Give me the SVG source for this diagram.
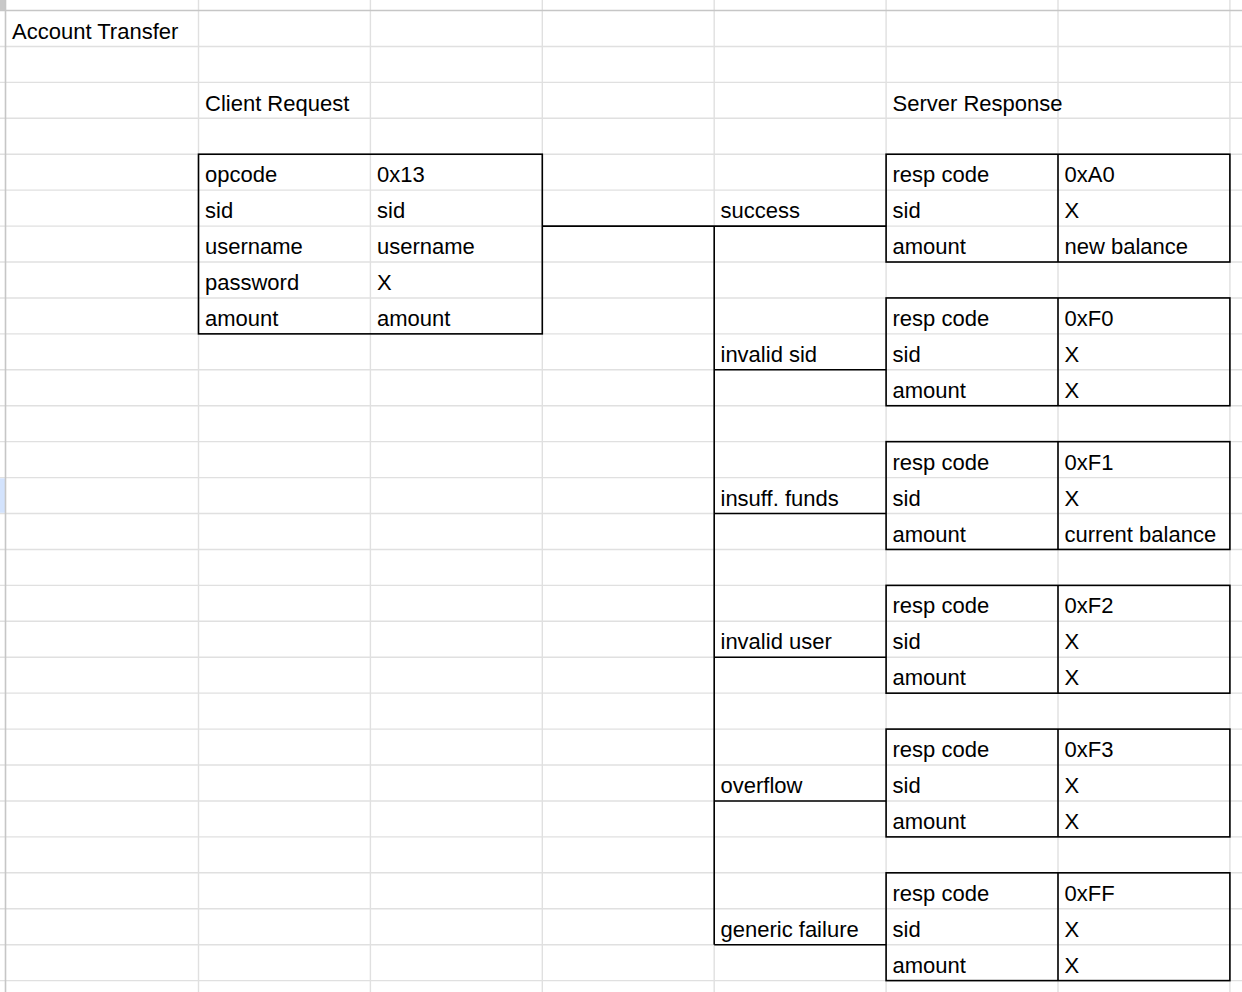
<svg xmlns="http://www.w3.org/2000/svg" width="1242" height="992" viewBox="0 0 1242 992">
  <style>
    .grid line { stroke: #e0e0e0; stroke-width: 1.4; }
    .hdr { stroke: #c6c6c6; stroke-width: 1.6; }
    .t { font-family: "Liberation Sans", Arial, sans-serif; font-size: 22px; fill: #000; }
    .box { fill: none; stroke: #000; stroke-width: 1.6; }
    .sep { stroke: #000; stroke-width: 1.6; }
    .conn path { fill: none; stroke: #000; stroke-width: 1.6; }
  </style>
  <rect width="1242" height="992" fill="#fff"/>

  <!-- spreadsheet gridlines: columns every 171.9px, rows every 35.93px -->
  <g class="grid">
    <line x1="198.5" y1="0" x2="198.5" y2="992"/>
    <line x1="370.4" y1="0" x2="370.4" y2="992"/>
    <line x1="542.3" y1="0" x2="542.3" y2="992"/>
    <line x1="714.2" y1="0" x2="714.2" y2="992"/>
    <line x1="886.1" y1="0" x2="886.1" y2="992"/>
    <line x1="1058" y1="0" x2="1058" y2="992"/>
    <line x1="1229.9" y1="0" x2="1229.9" y2="992"/>
    <line x1="0" y1="46.43" x2="1242" y2="46.43"/>
    <line x1="0" y1="82.36" x2="1242" y2="82.36"/>
    <line x1="0" y1="118.29" x2="1242" y2="118.29"/>
    <line x1="0" y1="154.22" x2="1242" y2="154.22"/>
    <line x1="0" y1="190.15" x2="1242" y2="190.15"/>
    <line x1="0" y1="226.08" x2="1242" y2="226.08"/>
    <line x1="0" y1="262.01" x2="1242" y2="262.01"/>
    <line x1="0" y1="297.94" x2="1242" y2="297.94"/>
    <line x1="0" y1="333.87" x2="1242" y2="333.87"/>
    <line x1="0" y1="369.8" x2="1242" y2="369.8"/>
    <line x1="0" y1="405.73" x2="1242" y2="405.73"/>
    <line x1="0" y1="441.66" x2="1242" y2="441.66"/>
    <line x1="0" y1="477.59" x2="1242" y2="477.59"/>
    <line x1="0" y1="513.52" x2="1242" y2="513.52"/>
    <line x1="0" y1="549.45" x2="1242" y2="549.45"/>
    <line x1="0" y1="585.38" x2="1242" y2="585.38"/>
    <line x1="0" y1="621.31" x2="1242" y2="621.31"/>
    <line x1="0" y1="657.24" x2="1242" y2="657.24"/>
    <line x1="0" y1="693.17" x2="1242" y2="693.17"/>
    <line x1="0" y1="729.1" x2="1242" y2="729.1"/>
    <line x1="0" y1="765.03" x2="1242" y2="765.03"/>
    <line x1="0" y1="800.96" x2="1242" y2="800.96"/>
    <line x1="0" y1="836.89" x2="1242" y2="836.89"/>
    <line x1="0" y1="872.82" x2="1242" y2="872.82"/>
    <line x1="0" y1="908.75" x2="1242" y2="908.75"/>
    <line x1="0" y1="944.68" x2="1242" y2="944.68"/>
    <line x1="0" y1="980.61" x2="1242" y2="980.61"/>
  </g>

  <!-- frozen header edges -->
  <g id="headers">
    <rect x="0" y="0" width="5.5" height="10.5" fill="#c8c8c8"/>
    <rect x="0" y="478.3" width="5" height="34.5" fill="#d3e3fd"/>
    <line class="hdr" x1="0" y1="10.5" x2="1242" y2="10.5"/>
    <line class="hdr" x1="5.5" y1="0" x2="5.5" y2="992"/>
  </g>

  <g id="title">
    <text class="t" x="12" y="39">Account Transfer</text>
  </g>
  <g id="section-labels">
    <text class="t" x="205" y="110.8">Client Request</text>
    <text class="t" x="892.5" y="110.8">Server Response</text>
  </g>

  <!-- request table -->
  <g id="client-request">
    <rect class="box" x="198.5" y="154.22" width="343.8" height="179.65"/>
    <text class="t" x="205" y="182.2">opcode</text>
    <text class="t" x="377" y="182.2">0x13</text>
    <text class="t" x="205" y="218.1">sid</text>
    <text class="t" x="377" y="218.1">sid</text>
    <text class="t" x="205" y="254.1">username</text>
    <text class="t" x="377" y="254.1">username</text>
    <text class="t" x="205" y="290">password</text>
    <text class="t" x="377" y="290">X</text>
    <text class="t" x="205" y="325.9">amount</text>
    <text class="t" x="377" y="325.9">amount</text>
  </g>

  <!-- branch tree from request to each response -->
  <g id="connectors" class="conn">
    <path d="M542.3 226.08 H886.1"/>
    <path d="M714.2 226.08 V944.68"/>
    <path d="M714.2 369.8 H886.1"/>
    <path d="M714.2 513.52 H886.1"/>
    <path d="M714.2 657.24 H886.1"/>
    <path d="M714.2 800.96 H886.1"/>
    <path d="M714.2 944.68 H886.1"/>
  </g>

  <!-- branch labels -->
  <g id="labels">
    <text class="t" x="720.5" y="218.1">success</text>
    <text class="t" x="720.5" y="361.8">invalid sid</text>
    <text class="t" x="720.5" y="505.5">insuff. funds</text>
    <text class="t" x="720.5" y="649.2">invalid user</text>
    <text class="t" x="720.5" y="793">overflow</text>
    <text class="t" x="720.5" y="936.7">generic failure</text>
  </g>

  <!-- response tables -->
  <g id="resp-success">
    <rect class="box" x="886.1" y="154.22" width="343.8" height="107.79"/>
    <line class="sep" x1="1058" y1="154.22" x2="1058" y2="262.01"/>
    <text class="t" x="892.5" y="182.2">resp code</text>
    <text class="t" x="1064.5" y="182.2">0xA0</text>
    <text class="t" x="892.5" y="218.1">sid</text>
    <text class="t" x="1064.5" y="218.1">X</text>
    <text class="t" x="892.5" y="254.1">amount</text>
    <text class="t" x="1064.5" y="254.1">new balance</text>
  </g>
  <g id="resp-invalid-sid">
    <rect class="box" x="886.1" y="297.94" width="343.8" height="107.79"/>
    <line class="sep" x1="1058" y1="297.94" x2="1058" y2="405.73"/>
    <text class="t" x="892.5" y="325.9">resp code</text>
    <text class="t" x="1064.5" y="325.9">0xF0</text>
    <text class="t" x="892.5" y="361.8">sid</text>
    <text class="t" x="1064.5" y="361.8">X</text>
    <text class="t" x="892.5" y="397.7">amount</text>
    <text class="t" x="1064.5" y="397.7">X</text>
  </g>
  <g id="resp-insuff-funds">
    <rect class="box" x="886.1" y="441.66" width="343.8" height="107.79"/>
    <line class="sep" x1="1058" y1="441.66" x2="1058" y2="549.45"/>
    <text class="t" x="892.5" y="469.6">resp code</text>
    <text class="t" x="1064.5" y="469.6">0xF1</text>
    <text class="t" x="892.5" y="505.5">sid</text>
    <text class="t" x="1064.5" y="505.5">X</text>
    <text class="t" x="892.5" y="541.5">amount</text>
    <text class="t" x="1064.5" y="541.5">current balance</text>
  </g>
  <g id="resp-invalid-user">
    <rect class="box" x="886.1" y="585.38" width="343.8" height="107.79"/>
    <line class="sep" x1="1058" y1="585.38" x2="1058" y2="693.17"/>
    <text class="t" x="892.5" y="613.3">resp code</text>
    <text class="t" x="1064.5" y="613.3">0xF2</text>
    <text class="t" x="892.5" y="649.2">sid</text>
    <text class="t" x="1064.5" y="649.2">X</text>
    <text class="t" x="892.5" y="685.2">amount</text>
    <text class="t" x="1064.5" y="685.2">X</text>
  </g>
  <g id="resp-overflow">
    <rect class="box" x="886.1" y="729.1" width="343.8" height="107.79"/>
    <line class="sep" x1="1058" y1="729.1" x2="1058" y2="836.89"/>
    <text class="t" x="892.5" y="757.1">resp code</text>
    <text class="t" x="1064.5" y="757.1">0xF3</text>
    <text class="t" x="892.5" y="793">sid</text>
    <text class="t" x="1064.5" y="793">X</text>
    <text class="t" x="892.5" y="828.9">amount</text>
    <text class="t" x="1064.5" y="828.9">X</text>
  </g>
  <g id="resp-generic-failure">
    <rect class="box" x="886.1" y="872.82" width="343.8" height="107.79"/>
    <line class="sep" x1="1058" y1="872.82" x2="1058" y2="980.61"/>
    <text class="t" x="892.5" y="900.8">resp code</text>
    <text class="t" x="1064.5" y="900.8">0xFF</text>
    <text class="t" x="892.5" y="936.7">sid</text>
    <text class="t" x="1064.5" y="936.7">X</text>
    <text class="t" x="892.5" y="972.6">amount</text>
    <text class="t" x="1064.5" y="972.6">X</text>
  </g>
</svg>
